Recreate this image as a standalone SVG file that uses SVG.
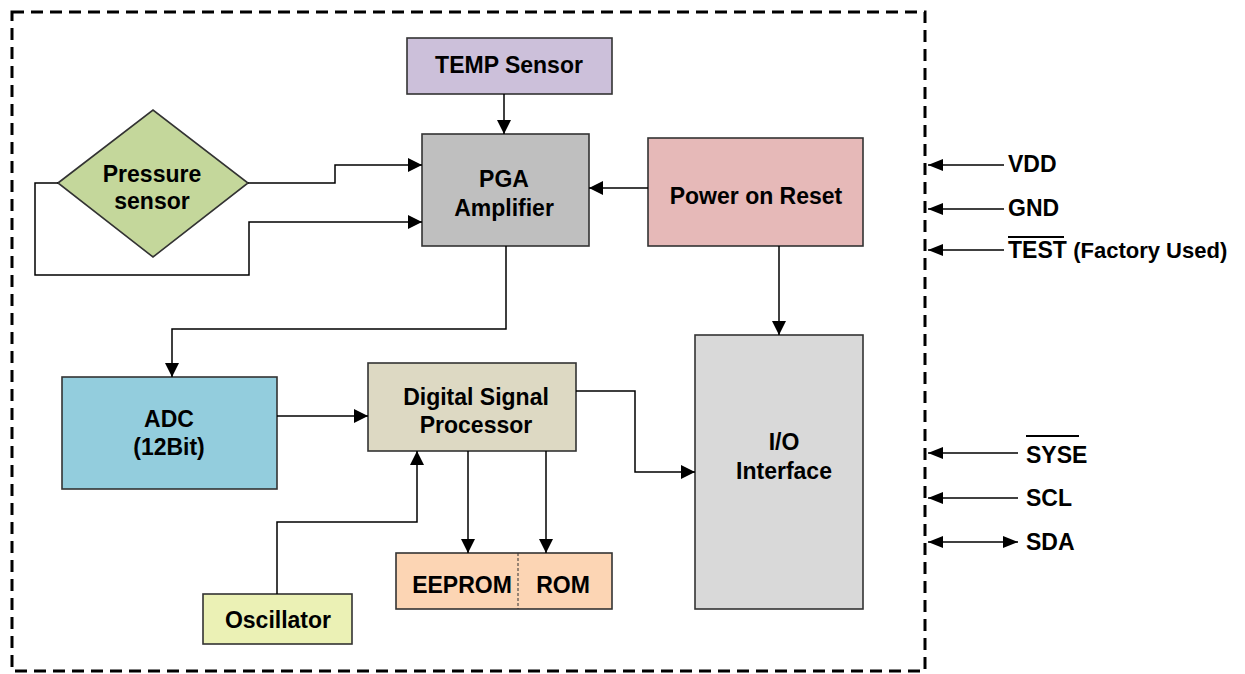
<svg xmlns="http://www.w3.org/2000/svg" width="1245" height="674" viewBox="0 0 1245 674">
<style>
text{font-family:"Liberation Sans",Arial,sans-serif;font-weight:bold;font-size:23px;fill:#000;text-anchor:middle}
.pin{text-anchor:start}
.box{stroke:#333;stroke-width:1.6}
.ln{fill:none;stroke:#000;stroke-width:1.5}
</style>
<defs>
<marker id="ah" markerUnits="userSpaceOnUse" markerWidth="14" markerHeight="14" refX="14" refY="7" orient="auto"><path d="M0,0 L14,7 L0,14 z" fill="#000"/></marker>
<marker id="ap" markerUnits="userSpaceOnUse" markerWidth="15" markerHeight="12" refX="15" refY="6" orient="auto-start-reverse"><path d="M0,0 L15,6 L0,12 z" fill="#000"/></marker>
</defs>
<rect x="12" y="12" width="913" height="659" fill="none" stroke="#000" stroke-width="3" stroke-dasharray="12 7"/>
<g id="temp"><rect class="box" x="407" y="38" width="205" height="56" fill="#ccc0da"/><text x="509" y="73">TEMP Sensor</text></g>
<g id="pga"><rect class="box" x="422" y="134" width="167" height="112" fill="#bfbfbf"/><text x="504" y="187">PGA</text><text x="504" y="216">Amplifier</text></g>
<g id="por"><rect class="box" x="648" y="138" width="215" height="108" fill="#e6b9b8"/><text x="756" y="204">Power on Reset</text></g>
<g id="pressure"><path class="box" d="M58,183 L153,110 L248,183 L153,257 Z" fill="#c4d79b"/><text x="152" y="182">Pressure</text><text x="152" y="209">sensor</text></g>
<g id="adc"><rect class="box" x="62" y="377" width="215" height="112" fill="#93cddd"/><text x="169" y="427">ADC</text><text x="169" y="455">(12Bit)</text></g>
<g id="dsp"><rect class="box" x="368" y="363" width="208" height="88" fill="#ddd9c3"/><text x="476" y="405">Digital Signal</text><text x="476" y="433">Processor</text></g>
<g id="io"><rect class="box" x="695" y="335" width="168" height="274" fill="#d9d9d9"/><text x="784" y="450">I/O</text><text x="784" y="479">Interface</text></g>
<g id="mem"><rect class="box" x="396" y="553" width="216" height="56" fill="#fcd5b4"/><line x1="518" y1="553" x2="518" y2="609" stroke="#333" stroke-width="1" stroke-dasharray="3 2"/><text x="462" y="593">EEPROM</text><text x="563" y="593">ROM</text></g>
<g id="osc"><rect class="box" x="203" y="594" width="149" height="50" fill="#ebf1b5"/><text x="278" y="628">Oscillator</text></g>
<g id="connectors">
<path class="ln" d="M504,94 V134" marker-end="url(#ah)"/>
<path class="ln" d="M648,188 H589" marker-end="url(#ah)"/>
<path class="ln" d="M779,246 V335" marker-end="url(#ah)"/>
<path class="ln" d="M248,183 H335 V165 H422" marker-end="url(#ah)"/>
<path class="ln" d="M58,183 H35 V275 H249 V222 H422" marker-end="url(#ah)"/>
<path class="ln" d="M506,246 V329 H172 V377" marker-end="url(#ah)"/>
<path class="ln" d="M277,416 H368" marker-end="url(#ah)"/>
<path class="ln" d="M277,594 V522 H417 V451" marker-end="url(#ah)"/>
<path class="ln" d="M468,451 V553" marker-end="url(#ah)"/>
<path class="ln" d="M546,451 V553" marker-end="url(#ah)"/>
<path class="ln" d="M576,391 H635 V472 H695" marker-end="url(#ah)"/>
<path class="ln" d="M1004,165 H928" marker-end="url(#ap)"/>
<path class="ln" d="M1004,209 H928" marker-end="url(#ap)"/>
<path class="ln" d="M1004,250 H928" marker-end="url(#ap)"/>
<path class="ln" d="M1018,453 H928" marker-end="url(#ap)"/>
<path class="ln" d="M1018,498 H928" marker-end="url(#ap)"/>
<path class="ln" d="M928,542 H1018" marker-start="url(#ap)" marker-end="url(#ap)"/>
</g>
<g id="pins">
<text class="pin" x="1008" y="172">VDD</text>
<text class="pin" x="1008" y="216">GND</text>
<text class="pin" x="1008" y="258">TEST <tspan font-size="22">(Factory Used)</tspan></text>
<line x1="1008" y1="237" x2="1064" y2="237" stroke="#000" stroke-width="2"/>
<text class="pin" x="1026" y="463">SYSE</text>
<line x1="1026" y1="436" x2="1079" y2="436" stroke="#000" stroke-width="2"/>
<text class="pin" x="1026" y="506">SCL</text>
<text class="pin" x="1026" y="550">SDA</text>
</g>
</svg>
